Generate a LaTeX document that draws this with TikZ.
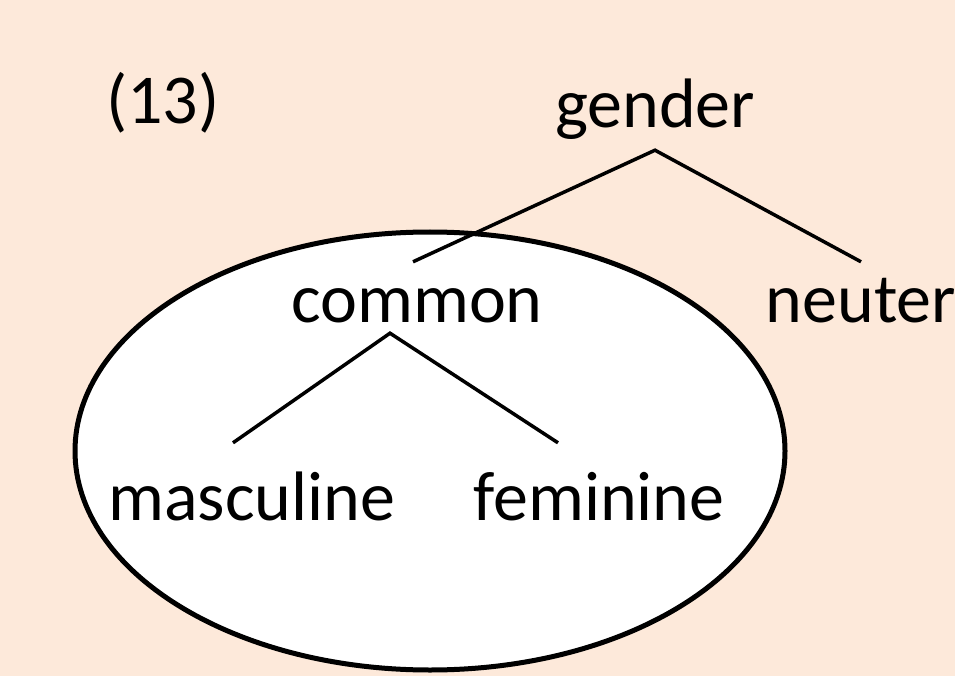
\documentclass[tikz,border=0pt]{standalone}
\usepackage{fontspec}
\setmainfont{Carlito}
\definecolor{peach}{RGB}{253,233,218}
\begin{document}
\begin{tikzpicture}[x=1pt,y=-1pt,
  lab/.style={inner sep=0pt, anchor=base, font=\fontsize{70}{84}\selectfont},
  branch/.style={line width=3.5pt, line cap=butt, line join=miter}]
\fill[peach] (0,0) rectangle (955,676);
\useasboundingbox (0,0) rectangle (955,676);
\draw[line width=5pt, fill=white] (430,451) ellipse [x radius=355, y radius=219];
\node[lab] (num) at (163,124) {(13)};
\node[lab, text depth=22pt] (gender) at (655,128) {gender};
\node[lab, text height=60pt, text depth=11pt] (common) at (417,322) {common};
\node[lab, text height=60pt] (neuter) at (861,322) {neuter};
\node[lab, text height=77pt] (masc) at (252,520) {masculine};
\node[lab, text height=77pt] (fem) at (599,520) {feminine};
\draw[branch] ([xshift=-4pt]common.north) -- (gender.south) -- (neuter.north);
\draw[branch] ([xshift=-19pt]masc.north) -- ([xshift=-27pt]common.south) -- ([xshift=-41pt]fem.north);
\end{tikzpicture}
\end{document}
